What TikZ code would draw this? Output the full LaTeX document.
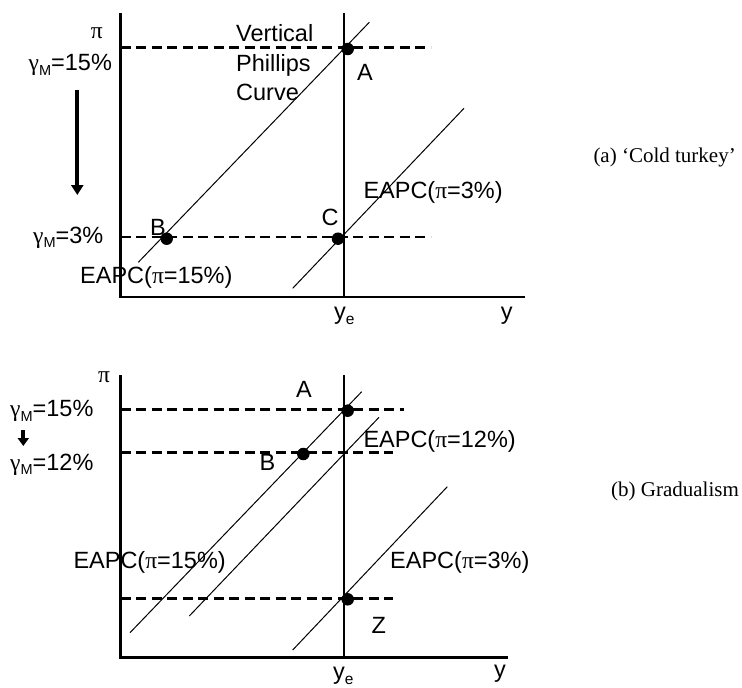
\documentclass[tikz,border=0pt]{standalone}
\usepackage{fontspec}
\setmainfont{Liberation Sans}
\newfontfamily\serifgr{Liberation Serif}
\usetikzlibrary{arrows.meta}
\newcommand\mypi{{\serifgr π}}
\newcommand\mygam{{\serifgr γ}}
\newcommand\mysub[1]{\raisebox{-4.5pt}{\fontsize{14.5}{16}\selectfont #1}}
\newcommand\mysubx[1]{\raisebox{-5pt}{\fontsize{15.5}{16}\selectfont #1}}
\begin{document}
\begin{tikzpicture}[x=1pt,y=-1pt,
  axis/.style={line width=2.9pt},
  guide/.style={line width=2.9pt, dash pattern=on 10pt off 5.5pt},
  eapc/.style={line width=1pt},
  dot/.style={circle, fill=black, inner sep=0pt, minimum size=12.5pt},
  lab/.style={font=\fontsize{23.5}{28}\selectfont, inner sep=0pt},
  captxt/.style={font=\serifgr\fontsize{21}{26}\selectfont, inner sep=0pt},
  bigarrow/.style={line width=4pt, -{Triangle[width=12pt,length=10pt]}},
  smallarrow/.style={line width=4pt, -{Triangle[width=11pt,length=8pt]}},
]
\useasboundingbox (0,0) rectangle (742,688);

% ---------------- panel (a) ----------------
\coordinate (yt1) at (120.7,13);
\coordinate (o1) at (120.7,297);
\coordinate (xe1) at (525,297);
\coordinate (vt1) at (344,13);
\coordinate (vb1) at (344,297);
\draw[axis] (yt1) -- (o1) -- (xe1);
\draw[axis] (vt1) -- (vb1);

\coordinate (h1a) at (120.7,47.7);
\coordinate (h1b) at (430.7,47.7);
\coordinate (h2a) at (120.7,237);
\coordinate (h2b) at (430.7,237);
\draw[guide] (h1a) -- (h1b);
\draw[guide] (h2a) -- (h2b);

\coordinate (p15a) at (138.3,262.3);
\coordinate (p15b) at (369.3,22.3);
\coordinate (p3a) at (292.7,288.3);
\coordinate (p3b) at (464,108.3);
\draw[eapc] (p15a) -- (p15b);
\draw[eapc] (p3a) -- (p3b);

\node[dot] (dA1) at (347.7,49) {};
\node[dot] (dB1) at (166.7,238.7) {};
\node[dot] (dC1) at (338,238.7) {};

\node[lab, anchor=base] (pi1) at (96.7,38) {\mypi};
\node[lab, anchor=base west] (g15a) at (28.5,70.5) {\mygam\mysub{M}=15\%};
\node[lab, anchor=base west] (g3a) at (33,243) {\mygam\mysub{M}=3\%};
\coordinate (ar1s) at (77.3,90);
\coordinate (ar1e) at (77.3,195);
\draw[bigarrow] (ar1s) -- (ar1e);

\node[lab, anchor=base west] (vpc1) at (236,41.7) {Vertical};
\node[lab, anchor=base west] (vpc2) at (236,71.7) {Phillips};
\node[lab, anchor=base west] (vpc3) at (236,100) {Curve};

\node[lab, anchor=base] (lA1) at (365,80) {A};
\node[lab, anchor=base] (lB1) at (158,235) {B};
\node[lab, anchor=base] (lC1) at (330,225) {C};
\node[lab, anchor=base west] (e15a) at (80,283.3) {EAPC(\mypi=15\%)};
\node[lab, anchor=base west] (e3a) at (363.3,198.3) {EAPC(\mypi=3\%)};
\node[lab, anchor=base west] (ye1) at (334,319) {y\mysubx{e}};
\node[lab, anchor=base] (y1) at (506.7,319) {y};

\node[captxt, anchor=base west] (capa) at (593.3,162) {(a) ‘Cold turkey’};

% ---------------- panel (b) ----------------
\coordinate (yt2) at (120.7,375);
\coordinate (o2) at (120.7,657.7);
\coordinate (xe2) at (507.7,657.7);
\coordinate (vt2) at (344,375);
\coordinate (vb2) at (344,657.7);
\draw[axis] (yt2) -- (o2) -- (xe2);
\draw[axis] (vt2) -- (vb2);

\coordinate (k1a) at (120.7,409.3);
\coordinate (k1b) at (404,409.3);
\coordinate (k2a) at (120.7,452.7);
\coordinate (k2b) at (393.3,452.7);
\coordinate (k3a) at (120.7,598.7);
\coordinate (k3b) at (393.3,598.7);
\draw[guide] (k1a) -- (k1b);
\draw[guide] (k2a) -- (k2b);
\draw[guide] (k3a) -- (k3b);

\coordinate (q15a) at (130,632.7);
\coordinate (q15b) at (361.7,391.7);
\coordinate (q12a) at (189.3,616);
\coordinate (q12b) at (379,417.3);
\coordinate (q3a) at (292.7,650);
\coordinate (q3b) at (447.3,486.7);
\draw[eapc] (q15a) -- (q15b);
\draw[eapc] (q12a) -- (q12b);
\draw[eapc] (q3a) -- (q3b);

\node[dot] (dA2) at (347.7,410.7) {};
\node[dot] (dB2) at (303.3,454) {};
\node[dot] (dZ2) at (347.7,599.3) {};

\node[lab, anchor=base] (pi2) at (104,382) {\mypi};
\node[lab, anchor=base west] (g15b) at (10,416.7) {\mygam\mysub{M}=15\%};
\node[lab, anchor=base west] (g12b) at (10,470) {\mygam\mysub{M}=12\%};
\coordinate (ar2s) at (23.3,430);
\coordinate (ar2e) at (23.3,446);
\draw[smallarrow] (ar2s) -- (ar2e);

\node[lab, anchor=base] (lA2) at (304,397) {A};
\node[lab, anchor=base] (lB2) at (267.5,470) {B};
\node[lab, anchor=base] (lZ2) at (378.7,633) {Z};
\node[lab, anchor=base west] (e12b) at (363.3,447.3) {EAPC(\mypi=12\%)};
\node[lab, anchor=base west] (e3b) at (390,568) {EAPC(\mypi=3\%)};
\node[lab, anchor=base west] (e15b) at (73.3,568) {EAPC(\mypi=15\%)};
\node[lab, anchor=base west] (ye2) at (333,679) {y\mysubx{e}};
\node[lab, anchor=base] (y2) at (500,677) {y};

\node[captxt, anchor=base west] (capb) at (611,496) {(b) Gradualism};
\end{tikzpicture}
\end{document}
